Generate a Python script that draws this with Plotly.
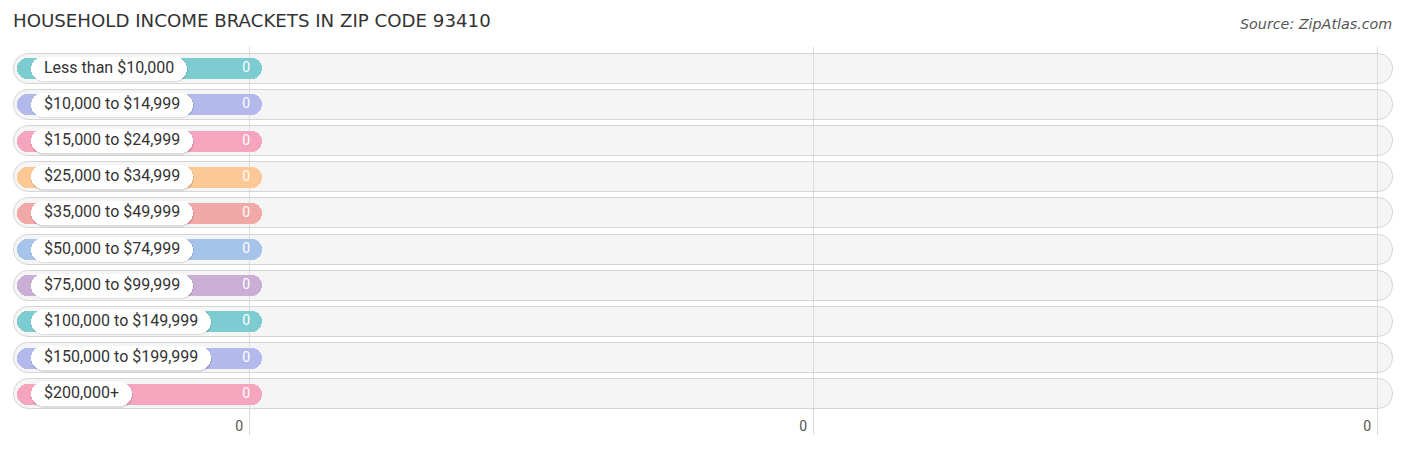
import plotly.graph_objects as go

# ---------------- data ----------------
categories = [
    "Less than $10,000",
    "$10,000 to $14,999",
    "$15,000 to $24,999",
    "$25,000 to $34,999",
    "$35,000 to $49,999",
    "$50,000 to $74,999",
    "$75,000 to $99,999",
    "$100,000 to $149,999",
    "$150,000 to $199,999",
    "$200,000+",
]
values = [0, 0, 0, 0, 0, 0, 0, 0, 0, 0]
tick_positions = [0, 1, 2]
tick_labels = ["0", "0", "0"]
colors = [
    "#7cccd2", "#b3b9ea", "#f6a5bf", "#fbc896", "#f1a9a8",
    "#a6c3ea", "#cbaed5", "#7cccd2", "#b3b9ea", "#f6a5bf",
]
title_text = "HOUSEHOLD INCOME BRACKETS IN ZIP CODE 93410"
source_text = "Source: ZipAtlas.com"

# ---------------- geometry / style (page pixel coordinates) ----------------
PAGE_OFF = 8                       # default body margin of the html page
W, H = 1406 - 2 * PAGE_OFF, 449 - 2 * PAGE_OFF
PLOT_TOP_PG, PLOT_BOT_PG = 47, 435
M_T = PLOT_TOP_PG - PAGE_OFF
M_B = (H + PAGE_OFF) - PLOT_BOT_PG
M_L, M_R = 0, 0
PLOT_H = H - M_T - M_B
X_STEP_PX = 564.0      # pixels per axis unit
X_ZERO_PG = 249.0      # page pixel of axis value 0
ROW_PX = 36.15         # pixels per row
FIRST_ROW_PG = 68.8    # page y of first row centre


def px2x(px_pg):
    return (px_pg - X_ZERO_PG) / X_STEP_PX


def dpx_x(d):
    return d / X_STEP_PX


def dpx_y(d):
    return d / ROW_PX


x_range = [px2x(PAGE_OFF + M_L), px2x(PAGE_OFF + W - M_R)]
y_range = [(PLOT_BOT_PG - FIRST_ROW_PG) / ROW_PX, (PLOT_TOP_PG - FIRST_ROW_PG) / ROW_PX]

# Roboto advance widths (em)
CW = {"L": .539, "e": .528, "s": .517, "t": .327, "h": .551, "a": .544,
      "n": .552, "o": .557, "$": .562, ",": .197, " ": .248, "+": .567}
for d in "0123456789":
    CW[d] = .562
LABEL_FS = 16


def text_w(s, fs=LABEL_FS):
    return sum(CW.get(c, .55) for c in s) * fs


rows = list(range(len(categories)))
n = len(rows)

fig = go.Figure()

# track
fig.add_trace(go.Bar(
    orientation="h", y=rows, base=[px2x(14)] * n,
    x=[dpx_x(1379)] * n, width=dpx_y(30),
    marker=dict(color="rgba(226,226,226,0.36)", cornerradius="50%",
                line=dict(width=1, color="rgba(208,208,208,0.9)")),
    hoverinfo="skip", showlegend=False))
# colored value bars
bar_left = px2x(17)
bar_ends = [v + dpx_x(13) for v in values]
fig.add_trace(go.Bar(
    orientation="h", y=rows, base=[bar_left] * n,
    x=[e - bar_left for e in bar_ends], width=dpx_y(21),
    marker=dict(color=colors, cornerradius="50%", line=dict(width=0)),
    hoverinfo="skip", showlegend=False))
# label pill shadow
pill_left = px2x(31)
pill_len = [dpx_x(text_w(c) + 26) for c in categories]
fig.add_trace(go.Bar(
    orientation="h", y=[r + dpx_y(1) for r in rows], base=[pill_left - dpx_x(0.5)] * n,
    x=[p + dpx_x(1) for p in pill_len], width=dpx_y(25),
    marker=dict(color="rgba(0,0,0,0.10)", cornerradius="50%", line=dict(width=0)),
    hoverinfo="skip", showlegend=False))
# label pill
fig.add_trace(go.Bar(
    orientation="h", y=rows, base=[pill_left] * n,
    x=pill_len, width=dpx_y(24),
    marker=dict(color="white", cornerradius="50%", line=dict(width=0)),
    hoverinfo="skip", showlegend=False))
# category labels
fig.add_trace(go.Scatter(
    x=[px2x(44)] * n, y=rows, mode="text", text=categories,
    textposition="middle right",
    textfont=dict(family="Roboto", size=LABEL_FS, color="#333333"),
    hoverinfo="skip", showlegend=False))
# value labels
fig.add_trace(go.Scatter(
    x=[e - dpx_x(12) for e in bar_ends], y=rows, mode="text",
    text=[str(v) for v in values], textposition="middle left",
    textfont=dict(family="Roboto", size=14, color="white"),
    hoverinfo="skip", showlegend=False))

fig.update_layout(
    width=W, height=H,
    margin=dict(l=M_L, r=M_R, t=M_T, b=M_B),
    paper_bgcolor="white", plot_bgcolor="white",
    barmode="overlay", bargap=0,
    title=dict(text=title_text, x=(13 - PAGE_OFF) / W, xanchor="left",
               y=1 - (21 - PAGE_OFF) / H, yanchor="middle",
               font=dict(family="DejaVu Sans", size=18.2, color="#333333")),
    xaxis=dict(range=x_range, tickvals=tick_positions, ticktext=tick_labels,
               showgrid=True, gridcolor="#dadada", gridwidth=1, zeroline=False,
               showline=False, ticks="", ticklabelposition="inside left",
               ticklabelshift=-6, ticklabelstandoff=-5,
               tickfont=dict(family="Roboto", size=14, color="#555555"),
               fixedrange=True),
    yaxis=dict(range=y_range, visible=False, showgrid=False, zeroline=False, fixedrange=True),
    annotations=[dict(text=source_text, xref="paper", yref="paper",
                      x=(1394 - PAGE_OFF - M_L) / (W - M_L - M_R),
                      y=(PLOT_BOT_PG - 24) / PLOT_H,
                      xanchor="right", yanchor="middle", showarrow=False,
                      font=dict(family="DejaVu Sans", size=14.3, color="#555555", style="italic"))],
)
fig.write_html("out.html")
